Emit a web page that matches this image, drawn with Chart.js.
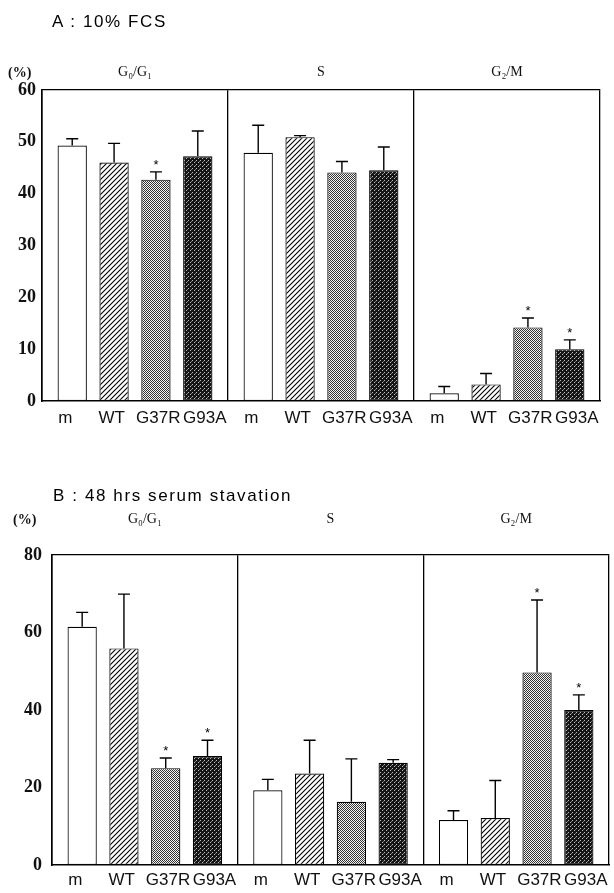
<!DOCTYPE html>
<html><head><meta charset="utf-8">
<script src="https://cdn.jsdelivr.net/npm/chart.js@4/dist/chart.umd.min.js"></script>
<style>
body{margin:0;background:#fff;width:614px;height:893px;overflow:hidden;position:relative;}
.box{position:absolute;left:0;width:614px;}
.title{position:absolute;font-family:"Liberation Sans",Arial,sans-serif;font-size:17px;line-height:20px;letter-spacing:1.6px;color:#000;white-space:nowrap;}
.unit{position:absolute;font-family:"Liberation Serif",serif;font-weight:bold;font-size:14px;line-height:18px;color:#111;}
</style></head><body>
<div class="box" style="top:0;height:440px"><canvas id="cA"></canvas></div>
<div class="box" style="top:440px;height:453px"><canvas id="cB"></canvas></div>
<div class="title" style="left:52px;top:12px">A : 10% FCS</div>
<div class="unit" style="left:8px;top:64px">(%)</div>
<div class="title" style="left:53px;top:486px">B : 48 hrs serum stavation</div>
<div class="unit" style="left:13px;top:511px">(%)</div>
<script>
// ---- data ----
const groups = ['G₀/G₁', 'S', 'G₂/M'];
const barLabels = ['m', 'WT', 'G37R', 'G93A'];
const tickLabels = groups.flatMap(() => barLabels);

// Panel A: 10% FCS
const aM      = [49.3, 47.9, 1.5];
const aMErr   = [1.3, 5.3, 1.3];
const aWT     = [46.0, 50.9, 3.2];
const aWTErr  = [3.7, 0.3, 2.1];
const aG37R   = [42.7, 44.1, 14.2];
const aG37RErr= [1.5, 2.1, 1.8];
const aG93A   = [47.2, 44.5, 10.0];
const aG93AErr= [4.9, 4.5, 1.8];
const aSigG37R = [true, false, true];
const aSigG93A = [false, false, true];
const aMax = 60, aStep = 10;

// Panel B: 48 hrs serum starvation
const bM      = [61.5, 19.3, 11.6];
const bMErr   = [3.7, 2.8, 2.4];
const bWT     = [55.9, 23.6, 12.1];
const bWTErr  = [14.0, 8.6, 9.7];
const bG37R   = [25.0, 16.3, 49.7];
const bG37RErr= [2.6, 11.1, 18.7];
const bG93A   = [28.1, 26.4, 40.0];
const bG93AErr= [4.1, 0.8, 3.9];
const bSigG37R = [true, false, true];
const bSigG93A = [true, false, true];
const bMax = 80, bStep = 20;
const noSig = [false, false, false];

// ---- fills ----
function tile(n, draw){const c=document.createElement('canvas');c.width=c.height=n;const g=c.getContext('2d');draw(g,n);return g.createPattern(c,'repeat');}
function makeFills(ctx){
  const hatch = tile(5,(g,n)=>{g.fillStyle='#fff';g.fillRect(0,0,n,n);g.strokeStyle='#000';g.lineWidth=1.1;g.beginPath();
    g.moveTo(0,n);g.lineTo(n,0);g.moveTo(-1,1);g.lineTo(1,-1);g.moveTo(n-1,n+1);g.lineTo(n+1,n-1);g.stroke();});
  const gray = tile(4,(g,n)=>{g.fillStyle='#f4f4f4';g.fillRect(0,0,n,n);g.fillStyle='#333';
    for(let y=0;y<n;y++)for(let x=0;x<n;x++){if((x+y)%2===0)g.fillRect(x,y,1,1);}});
  const dark = tile(4,(g,n)=>{g.fillStyle='#151515';g.fillRect(0,0,n,n);g.fillStyle='#bdbdbd';g.fillRect(0,0,1,1);g.fillRect(2,2,1,1);g.fillStyle='#777';g.fillRect(3,1,1,1);});
  return ['#ffffff', hatch, gray, dark];
}

const errPlugin = {
  id:'errbars',
  afterDatasetsDraw(chart){
    const ctx = chart.ctx, ys = chart.scales.y;
    chart.data.datasets.forEach((ds,i)=>{
      const meta = chart.getDatasetMeta(i);
      meta.data.forEach((bar,j)=>{
        const v = ds.data[j], e = ds.errors[j];
        const yTop = ys.getPixelForValue(v+e);
        ctx.save();
        ctx.strokeStyle='#000'; ctx.lineWidth=1.4;
        ctx.beginPath();
        ctx.moveTo(bar.x, bar.y); ctx.lineTo(bar.x, yTop);
        ctx.moveTo(bar.x-6, yTop); ctx.lineTo(bar.x+6, yTop);
        ctx.stroke();
        if (ds.sig[j]) {
          ctx.fillStyle='#000'; ctx.font='13px "Liberation Sans", Arial, sans-serif';
          ctx.textAlign='center'; ctx.textBaseline='alphabetic';
          ctx.fillText('*', bar.x, yTop-3);
        }
        ctx.restore();
      });
    });
  }
};

function makeChart(id, series, errs, sigs, yMax, yStep, L){
  const ctx = document.getElementById(id).getContext('2d');
  const fills = makeFills(ctx);
  return new Chart(ctx, {
    type:'bar',
    data:{
      labels: groups,
      datasets: series.map((s,i)=>({
        label: barLabels[i], data: s, errors: errs[i], sig: sigs[i],
        backgroundColor: fills[i], borderColor:'#000', borderWidth:1.2, borderSkipped:false,
        categoryPercentage:0.9, barPercentage:0.7, xAxisID:'x', yAxisID:'y'
      }))
    },
    options:{
      responsive:true, maintainAspectRatio:false, animation:false,
      layout:{padding:{left:0, right:L.right, top:L.top, bottom:0}},
      plugins:{legend:{display:false}, tooltip:{enabled:false}, title:{display:false}},
      scales:{
        x:{type:'category', position:'top', offset:true,
           grid:{offset:true, drawOnChartArea:true, drawTicks:false, color:'#000', lineWidth:1.3},
           border:{display:true, color:'#000', width:1.3},
           ticks:{color:'#111', padding:L.topPad, font:{family:'"Liberation Serif", serif', size:14}},
           afterFit(s){ s.height = L.topH; }},
        x2:{type:'category', labels: tickLabels, position:'bottom', offset:true,
           grid:{display:false, drawTicks:false},
           border:{display:true, color:'#000', width:1.6},
           ticks:{autoSkip:false, maxRotation:0, minRotation:0, color:'#111', padding:L.botPad,
                  font:{family:'"Liberation Sans", Arial, sans-serif', size:17}},
           afterFit(s){ s.height = L.botH; }},
        y:{min:0, max:yMax,
           ticks:{stepSize:yStep, color:'#111', padding:L.yPad, font:{family:'"Liberation Serif", serif', size:18, weight:'bold'}},
           grid:{display:false, drawTicks:false},
           border:{display:true, color:'#000', width:1.6},
           afterFit(s){ s.width = L.yW; }}
      }
    },
    plugins:[errPlugin]
  });
}

makeChart('cA', [aM, aWT, aG37R, aG93A], [aMErr, aWTErr, aG37RErr, aG93AErr],
  [noSig, noSig, aSigG37R, aSigG93A], aMax, aStep,
  {right:14, top:60, topH:30, topPad:9, botH:39, botPad:7, yW:42, yPad:6});
makeChart('cB', [bM, bWT, bG37R, bG93A], [bMErr, bWTErr, bG37RErr, bG93AErr],
  [noSig, noSig, bSigG37R, bSigG93A], bMax, bStep,
  {right:5, top:40, topH:75, topPad:27, botH:28, botPad:5, yW:52, yPad:10});
</script>
</body></html>
